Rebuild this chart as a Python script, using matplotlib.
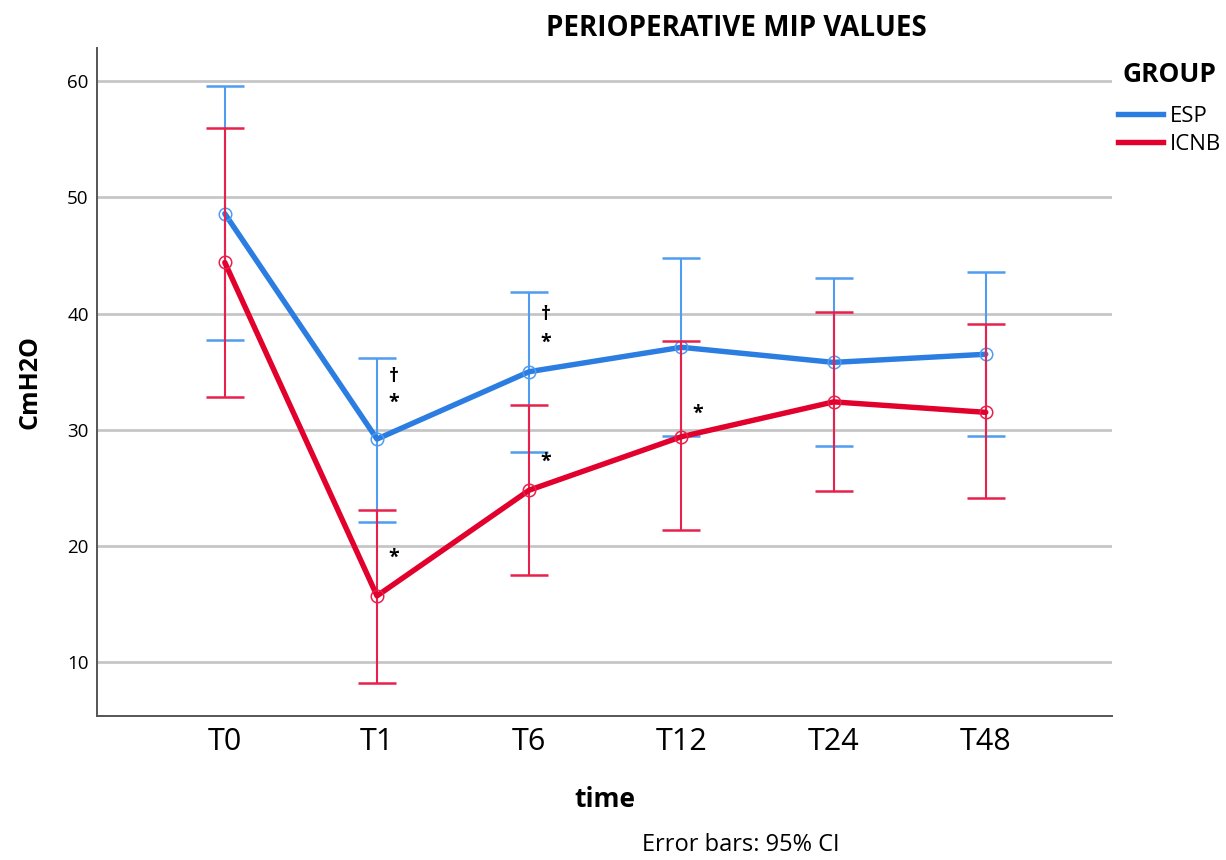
import matplotlib
matplotlib.use("Agg")
import matplotlib.pyplot as plt
from matplotlib.lines import Line2D

plt.rcParams['font.family'] = ['Open Sans', 'DejaVu Sans']

# ---- data ----
times = ["T0", "T1", "T6", "T12", "T24", "T48"]
esp_mean = [48.6, 29.2, 35.0, 37.1, 35.8, 36.5]
esp_lower = [37.7, 22.1, 28.1, 29.5, 28.6, 29.5]
esp_upper = [59.6, 36.2, 41.9, 44.8, 43.1, 43.6]
icnb_mean = [44.4, 15.7, 24.8, 29.4, 32.4, 31.5]
icnb_lower = [32.8, 8.2, 17.5, 21.4, 24.7, 24.1]
icnb_upper = [56.0, 23.1, 32.1, 37.6, 40.1, 39.1]
yticks = [10, 20, 30, 40, 50, 60]

# significance marks: (time index, symbol, y value)
marks = [(1, "\u2020", 34.5), (1, "*", 32.3), (1, "*", 19.0),
         (2, "\u2020", 39.9), (2, "*", 37.5), (2, "*", 27.2),
         (3, "*", 31.4)]

esp_line = "#2b7de1"
esp_err = "#4f9cf0"
icnb_line = "#e2002d"
icnb_err = "#e8204c"

fig = plt.figure(figsize=(12.26, 8.6), dpi=100)
ax = fig.add_axes([0.0791, 0.168, 0.828, 0.776])

x = list(range(len(times)))

def draw(mean, lo, hi, lc, ec, z):
    yerr = [[m - l for m, l in zip(mean, lo)], [h - m for m, h in zip(mean, hi)]]
    ax.errorbar(x, mean, yerr=yerr, fmt='none', ecolor=ec, elinewidth=1.5,
                capsize=13.5, capthick=1.8, zorder=z)
    ax.plot(x, mean, color=lc, lw=3.9, zorder=z + 1, solid_capstyle='round')
    ax.plot(x, mean, linestyle='none', marker='o', markersize=9,
            markerfacecolor='none', markeredgecolor=ec, markeredgewidth=1.1,
            zorder=z + 2)

draw(esp_mean, esp_lower, esp_upper, esp_line, esp_err, 3)
draw(icnb_mean, icnb_lower, icnb_upper, icnb_line, icnb_err, 6)

for i, s, yv in marks:
    ax.text(i + 0.11, yv, s, ha='center', va='center', fontsize=14,
            fontweight='bold', color='black', zorder=10)

ax.set_xlim(-0.84, 5.83)
ax.set_ylim(5.4, 62.85)
ax.set_xticks(x)
ax.set_xticklabels(times, fontsize=22)
ax.set_yticks(yticks)
ax.set_yticklabels([str(v) for v in yticks], fontsize=13.5)
ax.tick_params(axis='both', length=0)
ax.tick_params(axis='x', pad=8)
ax.tick_params(axis='y', pad=6)
ax.yaxis.grid(True, color='#c6c6c6', linewidth=2.0, zorder=0)
ax.set_axisbelow(True)
for sp in ['top', 'right']:
    ax.spines[sp].set_visible(False)
for sp in ['left', 'bottom']:
    ax.spines[sp].set_color('#555555')
    ax.spines[sp].set_linewidth(1.4)

ax.set_xlabel("time", fontsize=19, fontweight='bold', labelpad=21)
ax.set_ylabel("CmH2O", fontsize=18, fontweight='bold', labelpad=18)

fig.text(0.601, 0.967, "PERIOPERATIVE MIP VALUES", ha='center', va='center',
         fontsize=20, fontweight='bold')
fig.text(0.604, 0.003, "Error bars: 95% CI", ha='center', va='bottom', fontsize=17)

handles = [Line2D([], [], color=esp_line, lw=3.9), Line2D([], [], color=icnb_line, lw=3.9)]
leg = fig.legend(handles, ["ESP", "ICNB"], title="GROUP", loc='upper left',
                 bbox_to_anchor=(0.912, 0.929), frameon=False, fontsize=16,
                 handlelength=2.0, handletextpad=0.35, labelspacing=0.3,
                 borderaxespad=0, borderpad=0.0)
leg.get_title().set_fontsize(19)
leg.get_title().set_fontweight('bold')
leg._legend_box.sep = 13

fig.savefig("out.png", dpi=100)
